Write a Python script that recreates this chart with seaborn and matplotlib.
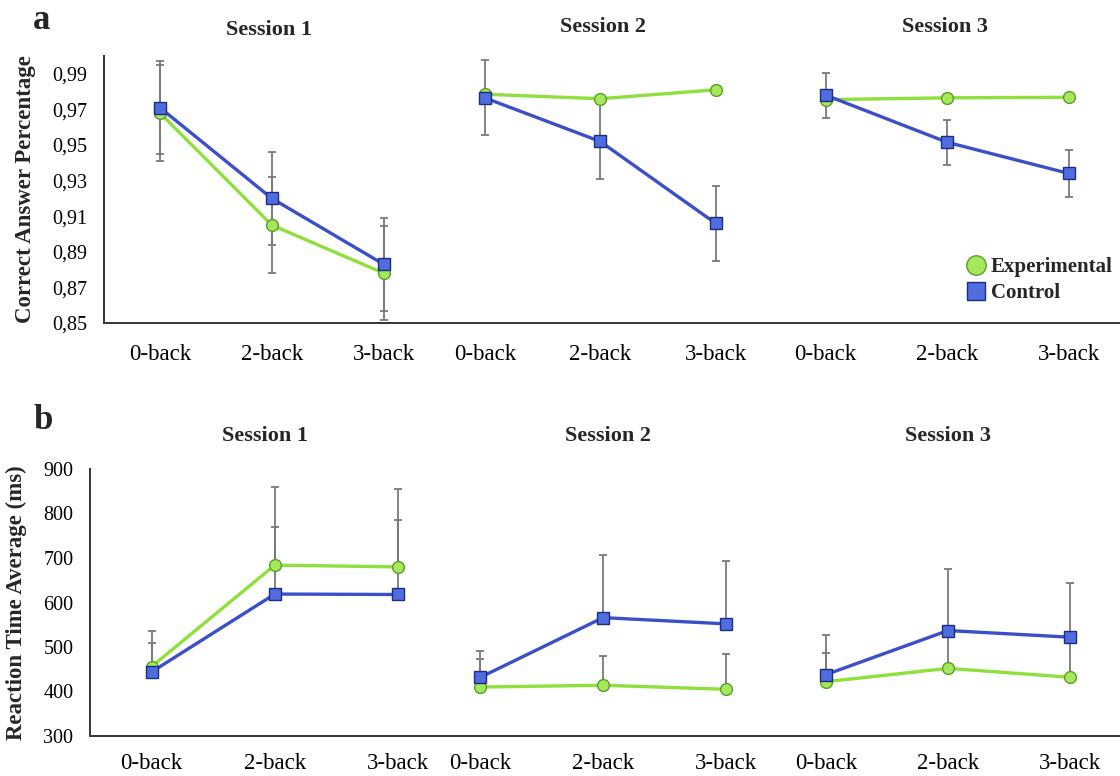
import numpy as np
import pandas as pd
import matplotlib
matplotlib.use("Agg")
import matplotlib.pyplot as plt
from matplotlib.lines import Line2D
import seaborn as sns

# ---- data ----
sessions = ["Session 1", "Session 2", "Session 3"]
conditions = ["0-back", "2-back", "3-back"]
groups = ["Experimental", "Control"]

# (a) correct answer percentage, one list per session
acc_exp = [[0.968, 0.905, 0.878], [0.9785, 0.976, 0.981], [0.9755, 0.9765, 0.9768]]
acc_ctrl = [[0.971, 0.920, 0.883], [0.9765, 0.952, 0.906], [0.978, 0.9515, 0.934]]
acc_exp_err = [[0.027, 0.027, 0.0265], [0.0, 0.0, 0.0], [0.0, 0.0, 0.0]]
acc_ctrl_err = [[0.026, 0.026, 0.026], [0.021, 0.021, 0.021], [0.0127, 0.0127, 0.013]]
acc_ticks = [0.85, 0.87, 0.89, 0.91, 0.93, 0.95, 0.97, 0.99]
acc_ticklabels = ["0,85", "0,87", "0,89", "0,91", "0,93", "0,95", "0,97", "0,99"]

# (b) reaction time average (ms), upper error bars only
rt_exp = [[456, 684, 680], [410, 414, 405], [422, 452, 432]]
rt_ctrl = [[444, 619, 618], [432, 566, 552], [438, 537, 522]]
rt_exp_err = [[80, 175, 176], [62, 66, 80], [64, 85, 88]]
rt_ctrl_err = [[66, 150, 168], [60, 140, 141], [88, 139, 122]]
rt_ticks = [300, 400, 500, 600, 700, 800, 900]

# ---- style ----
sns.set_theme(style="white")
plt.rcParams["font.family"] = ["Liberation Serif", "DejaVu Serif"]

green_line, green_face, green_edge = "#8fe03c", "#a6e85c", "#5a9e28"
blue_line, blue_face, blue_edge = "#3b4fc8", "#4f6ddf", "#1d2c85"
err_color = "#7a7a7a"
spine_color = "#3a3a3a"

W, H = 1120, 776
fig = plt.figure(figsize=(W / 100, H / 100), dpi=100)

# axes boxes in pixels: (left, top, width, height) and x-limits per session
rows = {
    "a": dict(boxes=[(104, 56, 330, 267), (434, 56, 337, 267), (771, 56, 349, 267)],
              xlims=[(-0.5, 2.45), (-0.44, 2.48), (-0.45, 2.42)], title_pad=[15, 17, 17],
              xpad=15),
    "b": dict(boxes=[(90, 469, 350, 267), (440, 469, 336, 267), (776, 469, 344, 267)],
              xlims=[(-0.5, 2.34), (-0.33, 2.41), (-0.41, 2.41)], title_pad=[20, 20, 20],
              xpad=12),
}


def add_box(box):
    l, t, w, h = box
    return fig.add_axes([l / W, 1 - (t + h) / H, w / W, h / H])


def draw_row(key, exp, ctrl, exp_err, ctrl_err, upper_only, ylim, ticks, ticklabels, ylabel):
    cfg = rows[key]
    for i, sess in enumerate(sessions):
        ax = add_box(cfg["boxes"][i])
        df = pd.DataFrame({"condition": conditions * 2,
                           "group": [groups[0]] * 3 + [groups[1]] * 3,
                           "value": exp[i] + ctrl[i],
                           "err": exp_err[i] + ctrl_err[i]})
        for g in groups:
            sub = df[df["group"] == g]
            lower = np.zeros(len(sub)) if upper_only else sub["err"].values
            ax.errorbar(sub["condition"], sub["value"], yerr=[lower, sub["err"].values],
                        fmt="none", ecolor=err_color, elinewidth=1.3, capsize=3,
                        capthick=1.3, zorder=1)
        sns.lineplot(data=df[df["group"] == "Experimental"], x="condition", y="value",
                     ax=ax, color=green_line, linewidth=2.4, marker="o", markersize=8.5,
                     markerfacecolor=green_face, markeredgecolor=green_edge,
                     markeredgewidth=1.0, errorbar=None, zorder=3)
        sns.lineplot(data=df[df["group"] == "Control"], x="condition", y="value",
                     ax=ax, color=blue_line, linewidth=2.4, marker="s", markersize=8.5,
                     markerfacecolor=blue_face, markeredgecolor=blue_edge,
                     markeredgewidth=1.0, errorbar=None, zorder=4)
        ax.set_xlim(*cfg["xlims"][i])
        ax.set_ylim(*ylim)
        ax.set_xlabel("")
        ax.set_title(sess, fontsize=16, fontweight="bold", pad=cfg["title_pad"][i])
        ax.tick_params(axis="x", length=0, pad=cfg["xpad"], labelsize=16.5, colors="black")
        for s in ["top", "right"]:
            ax.spines[s].set_visible(False)
        ax.spines["bottom"].set_color(spine_color)
        ax.spines["bottom"].set_linewidth(1.44)
        ax.spines["bottom"].set_capstyle("projecting")
        ax.spines["bottom"].set_antialiased(False)
        if i == 0:
            ax.set_yticks(ticks)
            ax.set_yticklabels(ticklabels)
            ax.tick_params(axis="y", length=0, pad=12, labelsize=14.5, colors="black")
            ax.set_ylabel(ylabel, fontsize=16.5, fontweight="bold", labelpad=12)
            ax.spines["left"].set_color(spine_color)
            ax.spines["left"].set_linewidth(1.44)
        else:
            ax.set_yticks([])
            ax.set_ylabel("")
            ax.spines["left"].set_visible(False)
        ax.patch.set_alpha(0)
    return ax


draw_row("a", acc_exp, acc_ctrl, acc_exp_err, acc_ctrl_err, False, (0.85, 1.0),
         acc_ticks, acc_ticklabels, "Correct Answer Percentage")
draw_row("b", rt_exp, rt_ctrl, rt_exp_err, rt_ctrl_err, True, (300, 900),
         rt_ticks, [str(t) for t in rt_ticks], "Reaction Time Average (ms)")

# legend for panel a
handles = [Line2D([], [], linestyle="none", marker="o", markersize=14,
                  markerfacecolor=green_face, markeredgecolor=green_edge),
           Line2D([], [], linestyle="none", marker="s", markersize=13,
                  markerfacecolor=blue_face, markeredgecolor=blue_edge)]
fig.legend(handles, groups, loc="upper left", bbox_to_anchor=(966 / W, 1 - 257 / H),
           frameon=False, prop={"weight": "bold", "size": 15}, handletextpad=0.2,
           labelspacing=0.3, handlelength=1.0, borderpad=0, borderaxespad=0)

fig.text(33 / W, 1 - 29 / H, "a", fontsize=25, fontweight="bold", va="baseline")
fig.text(33 / W, 1 - 429 / H, "b", fontsize=25, fontweight="bold", va="baseline")

fig.savefig("out.png", dpi=100)
